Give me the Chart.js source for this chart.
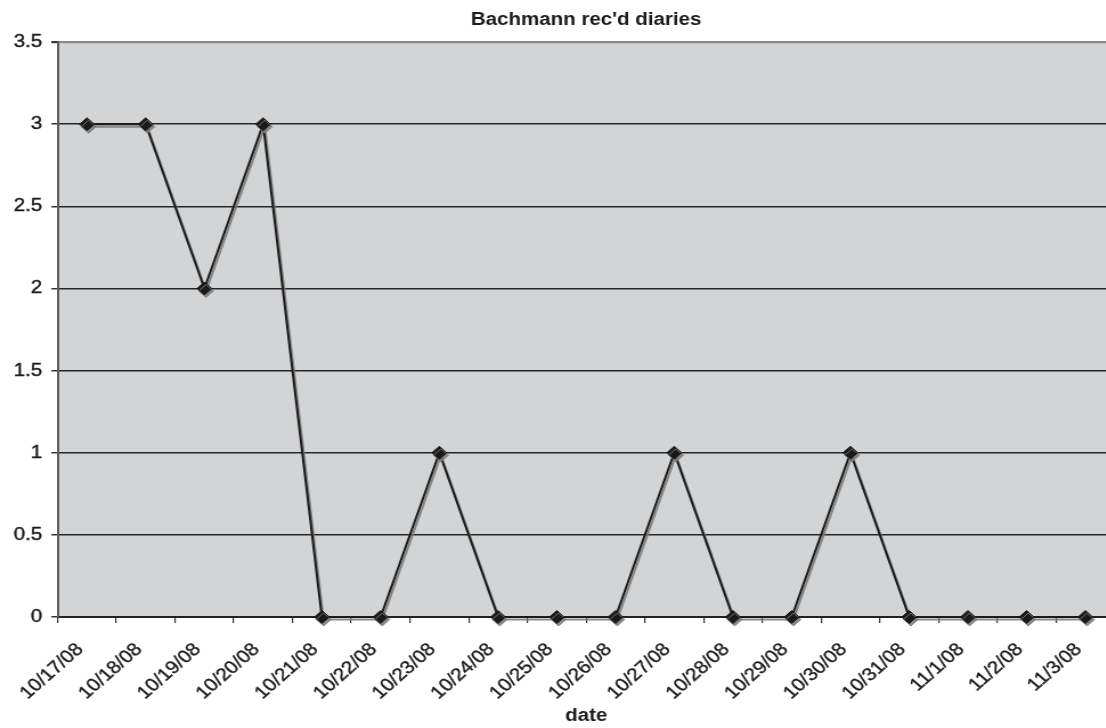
<!DOCTYPE html>
<html>
<head>
<meta charset="utf-8">
<title>Bachmann rec'd diaries</title>
<script src="https://cdn.jsdelivr.net/npm/chart.js@4/dist/chart.umd.min.js"></script>
<style>
  html, body { margin: 0; padding: 0; background: #fff; overflow: hidden; width: 1106px; height: 728px; }
  /* the chart is laid out narrow and widened horizontally, Excel-export style */
  #wrap { width: 1035px; height: 728px; transform: scaleX(1.14); transform-origin: 0 0; }
  canvas { display: block; }
</style>
</head>
<body>
<div id="wrap"><canvas id="chart" width="1035" height="728"></canvas></div>
<script>
// Diaries received per day
const dates = ['10/17/08', '10/18/08', '10/19/08', '10/20/08', '10/21/08', '10/22/08',
               '10/23/08', '10/24/08', '10/25/08', '10/26/08', '10/27/08', '10/28/08',
               '10/29/08', '10/30/08', '10/31/08', '11/1/08', '11/2/08', '11/3/08'];
const diaries = [3, 3, 2, 3, 0, 0, 1, 0, 0, 0, 1, 0, 0, 1, 0, 0, 0, 0];

// Value axis range and tick step
const yMin = 0;
const yMax = 3.5;
const yStep = 0.5;

const chartTitle = "Bachmann rec'd diaries";
const xTitle = 'date';

const FONT = "'Liberation Sans', Arial, Helvetica, sans-serif";
const INK = '#1a1a1a';

Chart.defaults.font.family = FONT;
Chart.defaults.font.size = 18;
Chart.defaults.color = INK;

// gray plot-area fill
const plotBackground = {
  id: 'plotBackground',
  beforeDraw(chart) {
    const { ctx, chartArea: a } = chart;
    ctx.save();
    ctx.fillStyle = '#d3d4d6';
    ctx.fillRect(a.left, a.top, a.right - a.left, a.bottom - a.top);
    ctx.restore();
  }
};

// soft drop shadow under the series line and markers
const seriesShadow = {
  id: 'seriesShadow',
  beforeDatasetsDraw(chart) {
    const ctx = chart.ctx;
    ctx.save();
    ctx.shadowColor = 'rgba(125,125,125,0.9)';
    ctx.shadowBlur = 0;
    ctx.shadowOffsetX = 1.5;
    ctx.shadowOffsetY = 2.5;
  },
  afterDatasetsDraw(chart) {
    chart.ctx.restore();
  }
};

new Chart(document.getElementById('chart'), {
  type: 'line',
  data: {
    labels: dates,
    datasets: [{
      label: 'diaries',
      data: diaries,
      borderColor: INK,
      borderWidth: 2,
      tension: 0,
      fill: false,
      pointStyle: 'rectRot',
      pointRadius: 6.5,
      pointBackgroundColor: INK,
      pointBorderColor: INK,
      pointBorderWidth: 1,
      clip: false
    }]
  },
  options: {
    responsive: false,
    animation: false,
    layout: { padding: { left: 0, top: 0, bottom: 0, right: 57.2 } },
    plugins: {
      legend: { display: false },
      tooltip: { enabled: false },
      title: {
        display: true,
        fullSize: false,
        text: chartTitle,
        font: { size: 18, weight: 'bold' },
        padding: { top: 9, bottom: 11.5 }
      }
    },
    scales: {
      x: {
        offset: true,
        grid: {
          drawOnChartArea: false,
          offset: true,
          tickLength: 6,
          tickColor: '#333',
          lineWidth: 1.2
        },
        border: { color: '#222', width: 2 },
        ticks: {
          font: { size: 18 },
          textStrokeColor: INK,
          textStrokeWidth: 0.4,
          minRotation: 45,
          maxRotation: 45,
          autoSkip: false,
          labelOffset: -6,
          padding: 16
        },
        title: {
          display: true,
          text: xTitle,
          font: { size: 18, weight: 'bold' },
          padding: { top: 0, bottom: 1 }
        },
        afterFit(scale) { scale.height = 111; }
      },
      y: {
        min: yMin,
        max: yMax,
        ticks: {
          stepSize: yStep,
          font: { size: 18 },
          textStrokeColor: INK,
          textStrokeWidth: 0.4,
          padding: 8,
          callback: (v) => String(Number(v))
        },
        grid: {
          color: (c) => (c.tick && c.tick.value === yMax ? '#8a8a8a' : '#262626'),
          lineWidth: (c) => (c.tick && c.tick.value === yMax ? 2.2 : 1.5),
          tickLength: 5.5,
          tickColor: '#333'
        },
        border: { color: '#5a5a5a', width: 2 },
        afterFit(scale) { scale.width = 50.5; }
      }
    }
  },
  plugins: [plotBackground, seriesShadow]
});
</script>
</body>
</html>
